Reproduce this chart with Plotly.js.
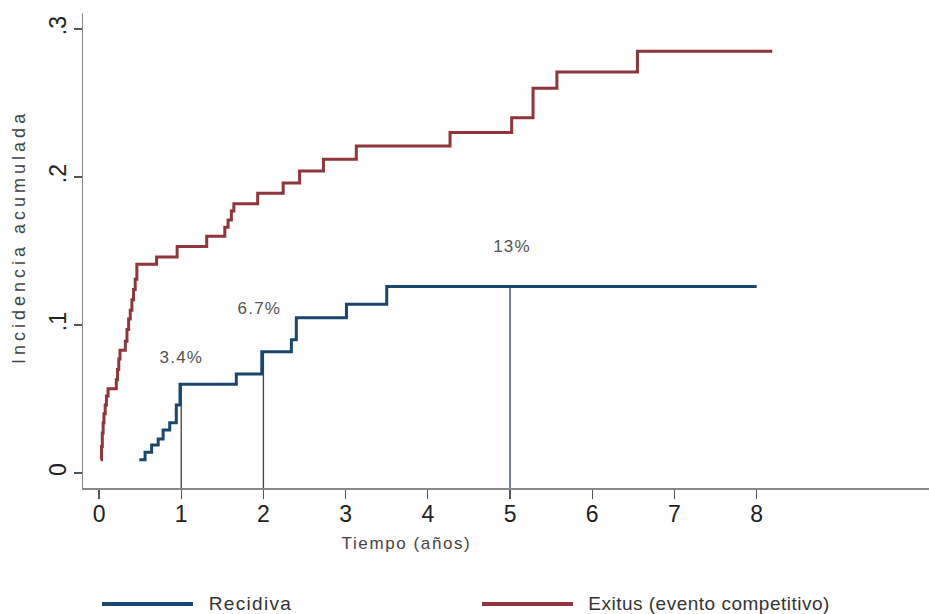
<!DOCTYPE html>
<html>
<head>
<meta charset="utf-8">
<script src="https://cdn.plot.ly/plotly-3.0.1.min.js"></script>
<style>
  html, body { margin: 0; padding: 0; background: #fff; }
  #chart { width: 929px; height: 614px; }
  /* wide, airy lettering of the labels */
  #chart .annotation-text { letter-spacing: 1.2px; }
  #chart g.annotation[data-index="0"] .annotation-text { letter-spacing: 4px; }
  #chart g.annotation[data-index="1"] .annotation-text { letter-spacing: 1.6px; }
  #chart g.annotation[data-index="5"] .annotation-text { letter-spacing: 1.3px; }
  #chart g.annotation[data-index="6"] .annotation-text { letter-spacing: 0.5px; }
</style>
</head>
<body>
<div id="chart"></div>
<script>
// Cumulative incidence, time in years
const tRecidiva  = [0.49, 0.56, 0.64, 0.72, 0.78, 0.86, 0.94, 0.985, 1.67, 1.98, 2.34, 2.40, 3.01, 3.50, 8.00];
const ciRecidiva = [0.009, 0.014, 0.019, 0.023, 0.029, 0.034, 0.046, 0.060, 0.067, 0.082, 0.090, 0.105, 0.114, 0.126, 0.126];

const tExitus  = [0.02, 0.03, 0.04, 0.05, 0.06, 0.075, 0.09, 0.11, 0.21, 0.225, 0.24, 0.255, 0.32, 0.34, 0.36, 0.38, 0.40, 0.42, 0.44, 0.46,
                  0.70, 0.95, 1.31, 1.53, 1.57, 1.61, 1.64, 1.93, 2.24, 2.44, 2.73, 3.13, 4.27, 5.02, 5.28, 5.57, 6.55, 8.19];
const ciExitus = [0.009, 0.018, 0.027, 0.034, 0.040, 0.046, 0.052, 0.057, 0.063, 0.070, 0.077, 0.083, 0.089, 0.097, 0.104, 0.110, 0.117, 0.124, 0.131, 0.141,
                  0.146, 0.153, 0.160, 0.166, 0.171, 0.177, 0.182, 0.189, 0.196, 0.204, 0.212, 0.221, 0.230, 0.240, 0.260, 0.271, 0.285, 0.285];

// Reference times marked on the recurrence curve
const markTimes  = [1, 2, 5];
const markLabels = ['3.4%', '6.7%', '13%'];

const xTickVals = [0, 1, 2, 3, 4, 5, 6, 7, 8];
const yTickVals = [0, 0.1, 0.2, 0.3];
const yTickText = ['0', '.1', '.2', '.3'];

const seriesNames = ['Recidiva', 'Exitus (evento competitivo)'];

const BLUE = '#1a476f';
const RED = '#90353b';
const FONT = 'Liberation Sans, Arial, sans-serif';
const Y_FLOOR = -0.0101;

// value of a right-continuous step function at time t
function stepAt(ts, vs, t) {
  let v = 0;
  for (let i = 0; i < ts.length; i++) { if (ts[i] <= t) v = vs[i]; }
  return v;
}

const traces = [];

// vertical drop lines from the axis to the recurrence curve
markTimes.forEach(function (t) {
  traces.push({
    x: [t, t], y: [Y_FLOOR, stepAt(tRecidiva, ciRecidiva, t)],
    mode: 'lines', line: { color: '#34435a', width: 1.3 },
    hoverinfo: 'skip', showlegend: false, cliponaxis: false
  });
});

traces.push({
  x: tExitus, y: ciExitus, name: seriesNames[1],
  mode: 'lines', line: { color: RED, width: 3, shape: 'hv' }, showlegend: false
});
traces.push({
  x: tRecidiva, y: ciRecidiva, name: seriesNames[0],
  mode: 'lines', line: { color: BLUE, width: 3, shape: 'hv' }, showlegend: false
});

const labelPos = [
  { x: 1.00, y: 0.078 },
  { x: 1.95, y: 0.111 },
  { x: 5.02, y: 0.153 }
];

const annotations = [
  { text: 'Incidencia acumulada', textangle: -90, xref: 'paper', yref: 'paper',
    x: -0.0757, y: 0.5305, xanchor: 'center', yanchor: 'middle', showarrow: false,
    font: { family: FONT, size: 18, color: '#444' } },
  { text: 'Tiempo (años)', xref: 'x', yref: 'paper', x: 3.74, y: -0.1158,
    xanchor: 'center', yanchor: 'middle', showarrow: false,
    font: { family: FONT, size: 17, color: '#444' } }
];
markLabels.forEach(function (txt, i) {
  annotations.push({ text: txt, x: labelPos[i].x, y: labelPos[i].y, xref: 'x', yref: 'y',
    xanchor: 'center', yanchor: 'middle', showarrow: false,
    font: { family: FONT, size: 17, color: '#555' } });
});

// legend entries below the plot
const legendItems = [
  { name: seriesNames[0], color: BLUE, x0: 0.0225, x1: 0.130, tx: 0.1974 },
  { name: seriesNames[1], color: RED, x0: 0.4716, x1: 0.5792, tx: 0.7400 }
];
const shapes = [];
legendItems.forEach(function (it) {
  shapes.push({ type: 'line', xref: 'paper', yref: 'paper', x0: it.x0, x1: it.x1, y0: -0.2442, y1: -0.2442,
    line: { color: it.color, width: 4 } });
  annotations.push({ text: it.name, xref: 'paper', yref: 'paper', x: it.tx, y: -0.2442,
    xanchor: 'center', yanchor: 'middle', showarrow: false,
    font: { family: FONT, size: 19, color: '#333' } });
});

const layout = {
  width: 929, height: 614,
  margin: { l: 83, r: 0, t: 13, b: 126, pad: 0 },
  paper_bgcolor: '#fff', plot_bgcolor: '#fff',
  showlegend: false,
  font: { family: FONT, color: '#222' },
  xaxis: {
    range: [-0.195, 10.097], tickvals: xTickVals, ticks: 'outside', ticklen: 9, tickwidth: 1.3,
    tickcolor: '#555', showline: true, linecolor: '#8a8a8a', linewidth: 1.5,
    showgrid: false, zeroline: false, ticklabelstandoff: -4,
    tickfont: { family: FONT, size: 23, color: '#222' }
  },
  yaxis: {
    range: [Y_FLOOR, 0.3108], tickvals: yTickVals, ticktext: yTickText, tickangle: -90,
    ticks: 'outside', ticklen: 8, tickwidth: 1.3, tickcolor: '#555',
    showline: true, linecolor: '#8a8a8a', linewidth: 1.5,
    showgrid: false, zeroline: false, ticklabelstandoff: -2,
    tickfont: { family: FONT, size: 23, color: '#222' }
  },
  annotations: annotations,
  shapes: shapes
};

Plotly.newPlot('chart', traces, layout, { displayModeBar: false, staticPlot: true });
</script>
</body>
</html>
